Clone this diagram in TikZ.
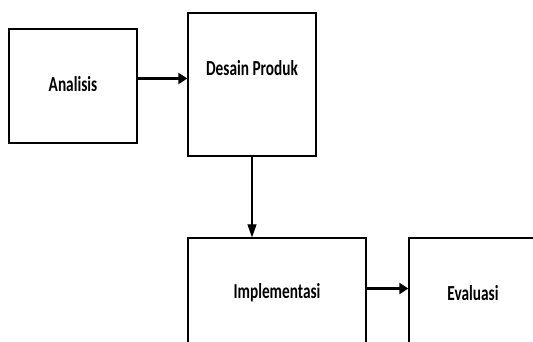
\documentclass[tikz,border=0pt]{standalone}
\usepackage{fontspec}
\setmainfont{Carlito}
\usetikzlibrary{arrows.meta}
\tikzset{
  box/.style={draw=black, line width=1.3pt, fill=white, inner sep=0pt, anchor=center},
  lbl/.style={font=\bfseries\fontsize{15.3}{18}\selectfont, inner sep=0pt},
  thickarrow/.style={line width=2.5pt, -{Triangle[length=9pt,width=11pt]}},
  thinarrow/.style={line width=1.1pt, -{Triangle[length=13pt,width=9pt]}}
}
\begin{document}
\begin{tikzpicture}[x=1pt,y=1pt]
\useasboundingbox (0,0) rectangle (533,341);
\clip (0,0) rectangle (533,341);
\node[box, minimum width=128pt, minimum height=114pt] (a) at (73,255) {};
\node[box, minimum width=128pt, minimum height=143pt] (d) at (252,256.5) {};
\node[box, minimum width=178pt, minimum height=130pt] (i) at (277,38) {};
\node[box, minimum width=151pt, minimum height=130pt] (e) at (484.5,38) {};
\node[lbl] (ta) at (73,257) {\scalebox{1}[1.4]{Analisis}};
\node[lbl] (td) at (252,273) {\scalebox{1}[1.4]{Desain Produk}};
\node[lbl] (ti) at (277,48) {\scalebox{1}[1.4]{Implementasi}};
\node[lbl] (te) at (473,48) {\scalebox{1}[1.4]{Evaluasi}};
\coordinate (a1) at ([yshift=7.5pt]a.east);
\draw[thickarrow] (a1) -- (a1 -| d.west);
\draw[thinarrow] (d.south) -- (d.south |- i.north);
\coordinate (i1) at ([yshift=14.5pt]i.east);
\draw[thickarrow] (i1) -- (i1 -| e.west);
\end{tikzpicture}
\end{document}
